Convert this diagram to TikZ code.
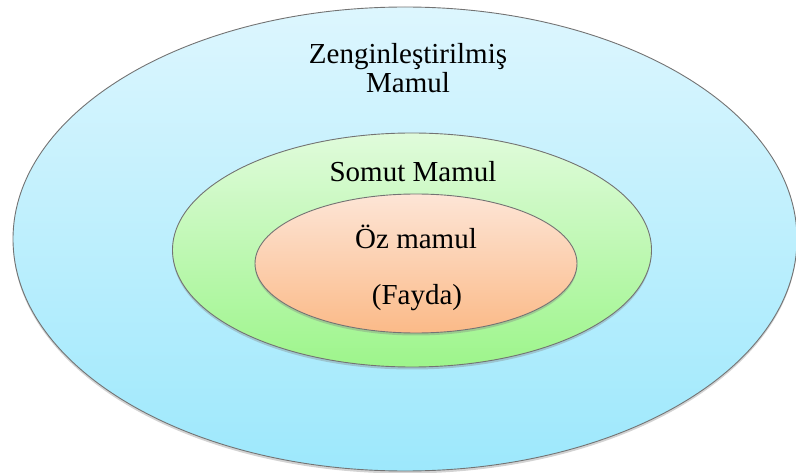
\documentclass[tikz,border=0pt]{standalone}
\usepackage{fontspec}
\setmainfont{Liberation Serif}
\usetikzlibrary{shapes.geometric, shadows, positioning}
\definecolor{urunBlueTop}{HTML}{DDF6FE}
\definecolor{urunBlueBot}{HTML}{9DE8FC}
\definecolor{urunGreenTop}{HTML}{E0FBDB}
\definecolor{urunGreenBot}{HTML}{9DF58B}
\definecolor{urunOrangeTop}{HTML}{FDE5D6}
\definecolor{urunOrangeBot}{HTML}{FBBA88}

\begin{document}
\begin{tikzpicture}[
  x=1pt, y=-1pt,
  layer/.style={ellipse, draw=black!55, line width=0.9pt, inner sep=0pt,
                drop shadow={shadow xshift=0pt, shadow yshift=-2.5pt, opacity=0.35}},
  txt/.style={font=\fontsize{29}{29}\selectfont, align=center, inner sep=0pt},
]
  \useasboundingbox (0,0) rectangle (796,473);
  \node[layer, top color=urunBlueTop, bottom color=urunBlueBot,
        minimum width=784pt, minimum height=464pt] (enriched) at (405,239) {};
  \node[layer, top color=urunGreenTop, bottom color=urunGreenBot,
        minimum width=479pt, minimum height=234pt] (tangible) at (412,250) {};
  \node[layer, top color=urunOrangeTop, bottom color=urunOrangeBot,
        minimum width=322pt, minimum height=139pt] (core) at (416,263.5) {};

  \node[txt] (enrichedtxt) at (408,68) {Zenginleştirilmiş\\Mamul};
  \node[txt] (tangibletxt) at (413,172) {Somut Mamul};
  \node[txt] (coretxt)     at (416,237) {Öz mamul};
  \node[txt] (benefittxt)  at (417,298) {(Fayda)};
\end{tikzpicture}
\end{document}
